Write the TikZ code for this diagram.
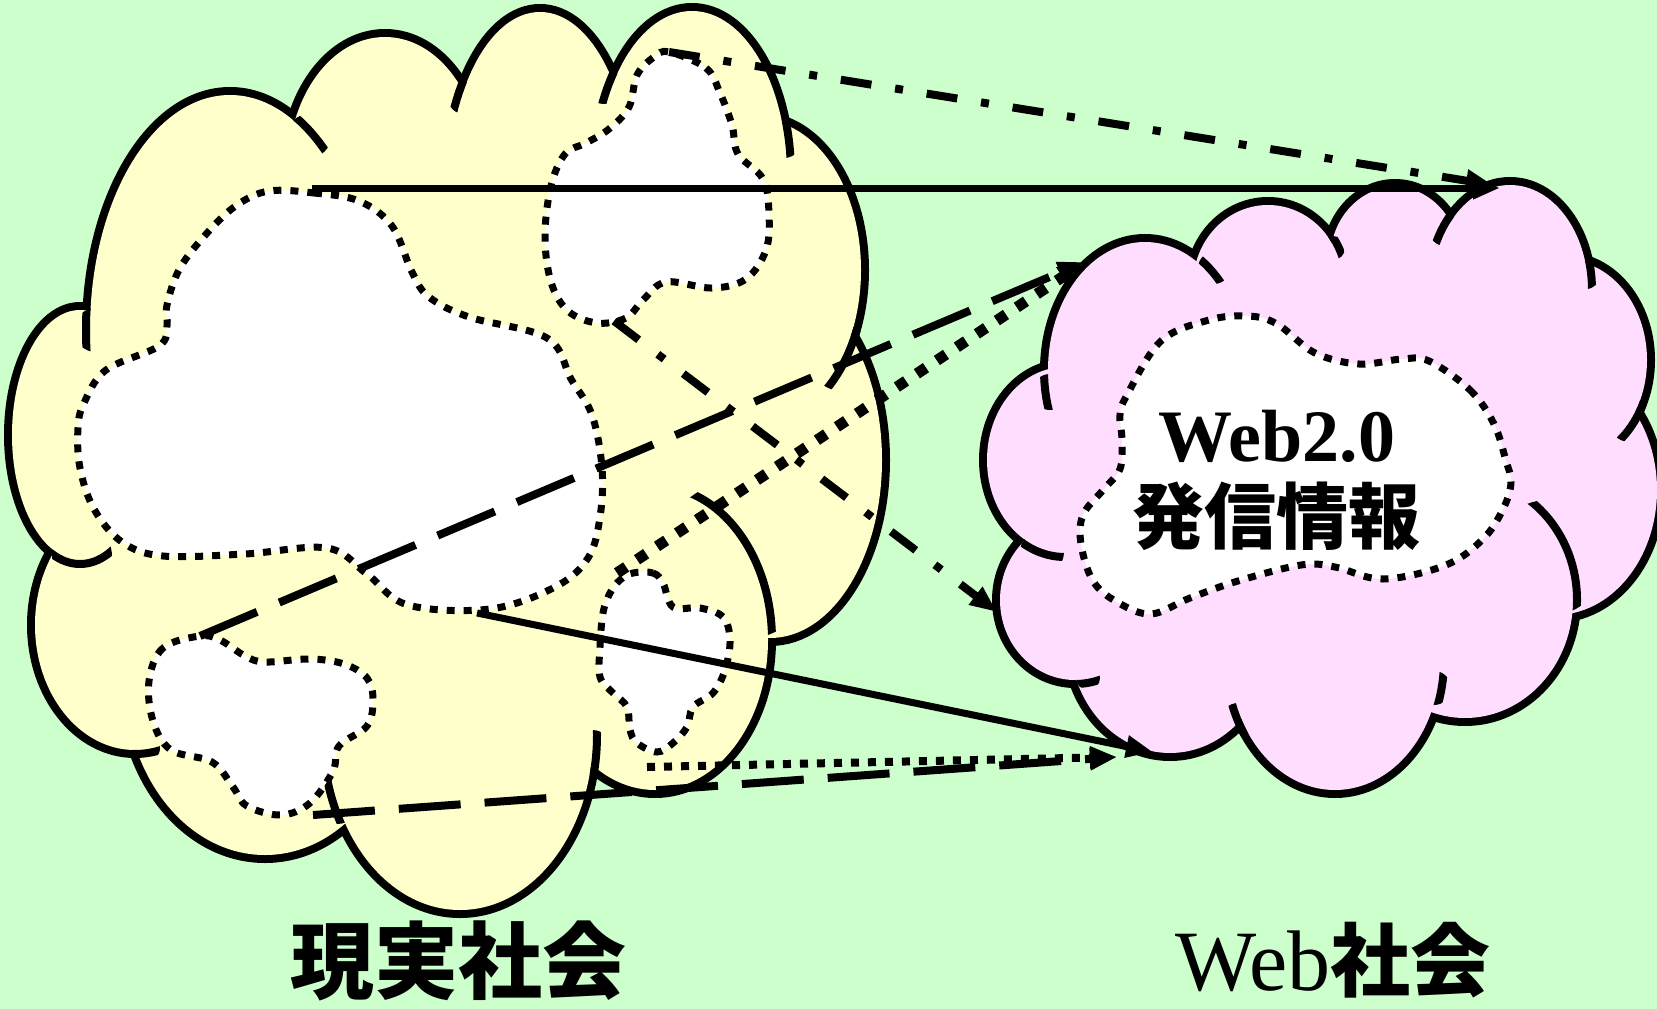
\documentclass[tikz,border=0pt]{standalone}
\usepackage{fontspec}
\setmainfont{Liberation Serif}
\newfontfamily\cjkfont{Noto Sans CJK JP}
\usetikzlibrary{arrows.meta}
\definecolor{bggreen}{HTML}{CCFFCC}
\definecolor{cloudyellow}{HTML}{FFFFCC}
\definecolor{cloudpink}{HTML}{FFDDFF}
\newcommand{\yellowlist}{80/435/68/125, 230/330/140/235, 385/170/97/133, 540/190/92/178, 692/175/95/164, 760/270/101/150, 770/460/112/178, 655/640/113/150, 460/735/133/175, 265/680/140/175, 135/625/100/125}
\newcommand{\pinklist}{1145/370/97/128, 1268/285/75/80, 1395/260/65/73, 1510/290/78/105, 1565/360/82/100, 1555/490/102/125, 1465/600/108/118, 1335/660/105/130, 1170/640/100/113, 1075/600/75/80, 1065/460/78/93}
\newcommand{\yellowtails}{230/330/140/235/96/330/22, 80/435/68/125/82/556/30, 135/625/100/125/146/748/14, 460/735/133/175/337/800/24, 460/735/133/175/592/752/22, 655/640/113/150/740/560/80, 760/270/101/150/842/358/33, 692/175/95/164/784/140/18, 692/175/95/164/604/86/18, 540/190/92/178/464/98/16, 230/330/140/235/309/136/22}
\newcommand{\pinktails}{1145/370/97/128/1050/392/18, 1145/370/97/128/1214/268/16, 1268/285/75/80/1333/248/12, 1510/290/78/105/1445/230/16, 1510/290/78/105/1586/275/14, 1565/360/82/100/1630/420/22, 1465/600/108/118/1548/558/58, 1335/660/105/130/1434/688/17, 1335/660/105/130/1238/720/17, 1075/600/75/80/1088/678/12, 1065/460/78/93/1042/552/22}
\begin{document}
\begin{tikzpicture}[x=1pt,y=-1pt,
  cloudline/.style={line width=16pt},
  tailline/.style={line width=8pt},
  blob/.style={fill=white, draw=black, line width=7pt, dash pattern=on 8pt off 9pt},
  tip/.style={-{Triangle[length=27pt,width=21pt]}},
  solidarrow/.style={tip, line width=7pt},
  dashdotarrow/.style={tip, line width=8pt, dash pattern=on 31pt off 24pt on 8pt off 24pt},
  longdasharrow/.style={tip, line width=8pt, dash pattern=on 62pt off 24pt},
  thickdotarrow/.style={tip, line width=11pt, dash pattern=on 11pt off 13pt},
  thindotarrow/.style={tip, line width=8pt, dash pattern=on 8pt off 9pt}
]
\useasboundingbox (0,0) rectangle (1657,1009);
\fill[bggreen] (0,0) rectangle (1657,1009);

% ---- yellow cloud (real society)
\foreach \cx/\cy/\rx/\ry in \yellowlist {\draw[cloudline] (\cx,\cy) ellipse [x radius=\rx pt, y radius=\ry pt];}
\foreach \cx/\cy/\rx/\ry in \yellowlist {\fill[cloudyellow] (\cx,\cy) ellipse [x radius=\rx pt, y radius=\ry pt];}
\fill[cloudyellow] (80,435) -- (230,330) -- (385,170) -- (540,190) -- (692,175) -- (760,270) -- (770,460) -- (655,640) -- (460,735) -- (265,680) -- (135,625) -- cycle;
\foreach \cx/\cy/\rx/\ry/\tx/\ty/\tr in \yellowtails {
  \begin{scope}
    \clip (\tx,\ty) circle [radius=\tr pt];
    \draw[tailline] (\cx,\cy) ellipse [x radius=\rx pt+4pt, y radius=\ry pt+4pt];
  \end{scope}
}

% ---- pink cloud (web society)
\foreach \cx/\cy/\rx/\ry in \pinklist {\draw[cloudline] (\cx,\cy) ellipse [x radius=\rx pt, y radius=\ry pt];}
\foreach \cx/\cy/\rx/\ry in \pinklist {\fill[cloudpink] (\cx,\cy) ellipse [x radius=\rx pt, y radius=\ry pt];}
\fill[cloudpink] (1145,370) -- (1268,285) -- (1395,260) -- (1510,290) -- (1565,360) -- (1555,490) -- (1465,600) -- (1335,660) -- (1170,640) -- (1075,600) -- (1065,460) -- cycle;
\foreach \cx/\cy/\rx/\ry/\tx/\ty/\tr in \pinktails {
  \begin{scope}
    \clip (\tx,\ty) circle [radius=\tr pt];
    \draw[tailline] (\cx,\cy) ellipse [x radius=\rx pt+4pt, y radius=\ry pt+4pt];
  \end{scope}
}

% ---- dotted white areas
\draw[blob] plot[smooth cycle, tension=0.6] coordinates {(269,191) (314,193) (359,201) (392,226) (412,272) (429,297) (469,317) (547,338) (571,379) (592,415) (602,468) (600,517) (588,558) (555,587) (490,609) (408,605) (367,574) (327,548) (245,554) (163,556) (122,542) (94,509) (80,468) (78,428) (84,403) (106,370) (159,346) (167,326) (167,305) (180,268) (208,232) (237,205)};
\draw[blob] plot[smooth cycle, tension=0.6] coordinates {(669,52) (706,68) (720,93) (732,125) (738,154) (763,179) (769,214) (766,250) (746,279) (712,288) (666,282) (643,300) (626,318) (597,323) (568,311) (551,282) (545,236) (551,186) (565,154) (586,143) (609,129) (629,107) (637,75) (654,57)};
\draw[blob] plot[smooth cycle, tension=0.6] coordinates {(200,636) (163,648) (149,681) (153,721) (171,750) (212,762) (233,787) (247,806) (281,815) (310,803) (333,771) (339,746) (367,726) (373,700) (367,678) (344,664) (310,659) (265,662) (245,656) (220,640)};
\draw[blob] plot[smooth cycle, tension=0.6] coordinates {(633,573) (653,573) (663,583) (673,607) (700,608) (723,617) (730,640) (725,670) (713,693) (693,707) (687,727) (673,743) (657,752) (637,743) (630,730) (627,707) (613,693) (600,677) (600,647) (603,613) (610,593) (620,580)};
\draw[blob] plot[smooth cycle, tension=0.6] coordinates {(1429,361) (1470,390) (1494,424) (1506,461) (1511,482) (1504,507) (1484,538) (1446,565) (1383,579) (1335,567) (1301,565) (1238,581) (1190,598) (1151,614) (1117,602) (1093,581) (1081,544) (1083,515) (1103,490) (1120,469) (1122,440) (1120,415) (1127,395) (1161,341) (1209,320) (1248,316) (1277,324) (1315,353) (1359,364) (1402,359)};

% ---- connector end points
\coordinate (b1top) at (312,188);
\coordinate (pinkTR) at (1500,188);
\coordinate (b2top) at (669,52);
\coordinate (pinkTRb) at (1493,185);
\coordinate (b2bot) at (614,321);
\coordinate (pinkL) at (997,612);
\coordinate (b3top) at (200,636);
\coordinate (pinkTL) at (1085,262);
\coordinate (b4top) at (617,573);
\coordinate (b1bot) at (477,613);
\coordinate (pinkB) at (1153,752);
\coordinate (b4bot) at (647,767);
\coordinate (pinkBL) at (1117,757);
\coordinate (b3bot) at (313,815);

% ---- connectors
\draw[solidarrow] (b1top) -- (pinkTR);
\draw[dashdotarrow] (b2top) -- (pinkTRb);
\draw[dashdotarrow] (b2bot) -- (pinkL);
\draw[longdasharrow] (b3top) -- (pinkTL);
\draw[thickdotarrow] (b4top) -- (pinkTL);
\draw[solidarrow] (b1bot) -- (pinkB);
\draw[thindotarrow] (b4bot) -- (pinkBL);
\draw[longdasharrow] (b3bot) -- (pinkBL);

% ---- texts
\node[inner sep=0pt, anchor=base, font=\fontsize{74}{80}\selectfont\bfseries] (web20) at (1277,461) {Web2.0};
\node[inner sep=0pt, anchor=base, font=\cjkfont\bfseries\fontsize{72}{80}\selectfont] (hasshin) at (1276,543) {発信情報};
\node[inner sep=0pt, anchor=base, font=\cjkfont\bfseries\fontsize{84}{90}\selectfont] (genjitsu) at (458,992) {現実社会};
\node[inner sep=0pt, anchor=base west] (websha) at (1175,990) {\fontsize{86}{90}\selectfont Web{\cjkfont\bfseries\fontsize{80}{90}\selectfont 社会}};
\end{tikzpicture}
\end{document}
